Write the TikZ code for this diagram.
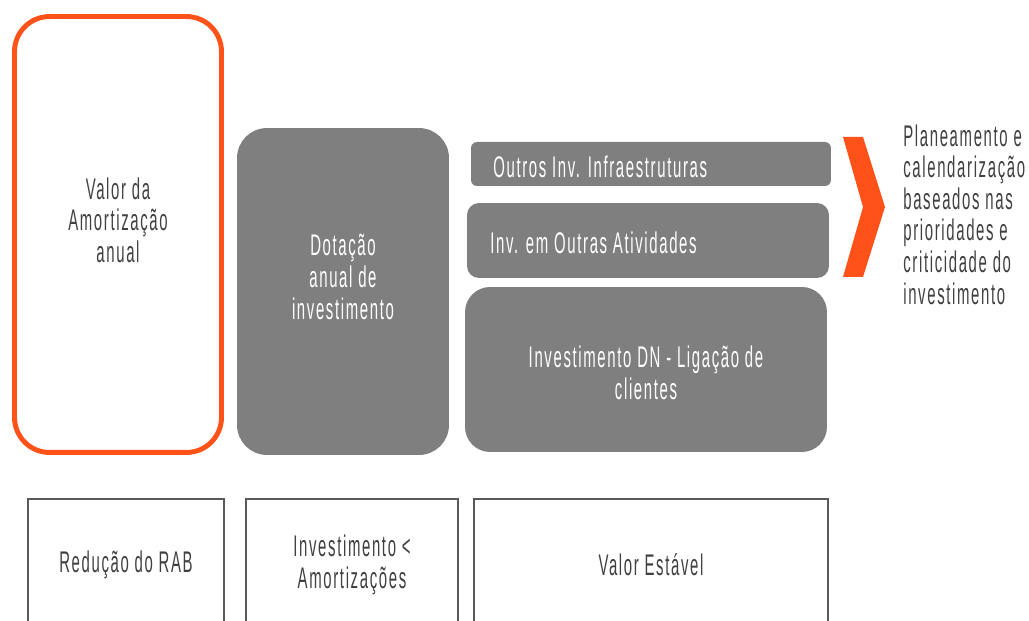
\documentclass[tikz,border=0pt]{standalone}
\usepackage{fontspec}
\setmainfont[FakeStretch=0.5, LetterSpace=5.5]{Liberation Sans}
\usepackage{tikz}
\usetikzlibrary{positioning}
\definecolor{accent}{RGB}{255,82,25}
\definecolor{boxgray}{RGB}{127,127,127}
\definecolor{txtgray}{RGB}{64,64,64}
\definecolor{linegray}{RGB}{89,89,89}

\begin{document}
\begin{tikzpicture}[x=0.02cm, y=-0.02cm,
  txt/.style={font=\fontsize{17}{18}\selectfont, align=center, text=txtgray},
  wtxt/.style={txt, text=white},
  valbox/.style={draw=accent, line width=2.8pt, rounded corners=0.7cm, inner sep=0pt},
  invbox/.style={fill=boxgray, inner sep=0pt},
  effbox/.style={draw=linegray, line width=0.85pt, inner sep=0pt, txt}]
  \useasboundingbox (0,0) rectangle (1029,621);
  \clip (0,0) rectangle (1029,621);
  % annual amortisation
  \node[valbox, minimum width=4.14cm, minimum height=8.72cm] (amort) at (118,234.5) {};
  \node[txt] (amortlab) at (118,220) {Valor da\\Amortização\\anual};
  % investment budget
  \node[invbox, rounded corners=0.6cm, minimum width=4.24cm, minimum height=6.54cm] (dot) at (343,291.5) {};
  \node[wtxt] (dotlab) at (343,277) {Dotação\\anual de\\investimento};
  % split of the budget
  \node[invbox, rounded corners=0.12cm, minimum width=7.2cm, minimum height=0.88cm] (infra) at (651,164) {};
  \node[wtxt, anchor=west, inner sep=0pt] (infralab) at (493,167) {Outros Inv. Infraestruturas};
  \node[invbox, rounded corners=0.24cm, minimum width=7.24cm, minimum height=1.5cm] (ativ) at (648,240.5) {};
  \node[wtxt, anchor=west, inner sep=0pt] (ativlab) at (490,243) {Inv. em Outras Atividades};
  \node[invbox, rounded corners=0.5cm, minimum width=7.24cm, minimum height=3.3cm] (dn) at (646,369.5) {};
  \node[wtxt] (dnlab) at (646,373) {Investimento DN - Ligação de\\clientes};
  % chevron
  \fill[accent] (843,137) -- (863,137) -- (885,207) -- (863,277) -- (843,277) -- (863,207) -- cycle;
  \node[txt, align=left, anchor=west, inner sep=0pt] (plan) at (903,214.5)
    {Planeamento e\\calendarização\\baseados nas\\prioridades e\\criticidade do\\investimento};
  % effect on the RAB
  \node[effbox, minimum width=3.92cm, minimum height=2.64cm] (rab) at (126,565) {Redução do RAB};
  \node[effbox, minimum width=4.24cm, minimum height=2.64cm] (menor) at (352,565) {Investimento <\\Amortizações};
  \node[effbox, minimum width=7.08cm, minimum height=2.64cm] (est) at (651,565) {Valor Estável};
\end{tikzpicture}
\end{document}
